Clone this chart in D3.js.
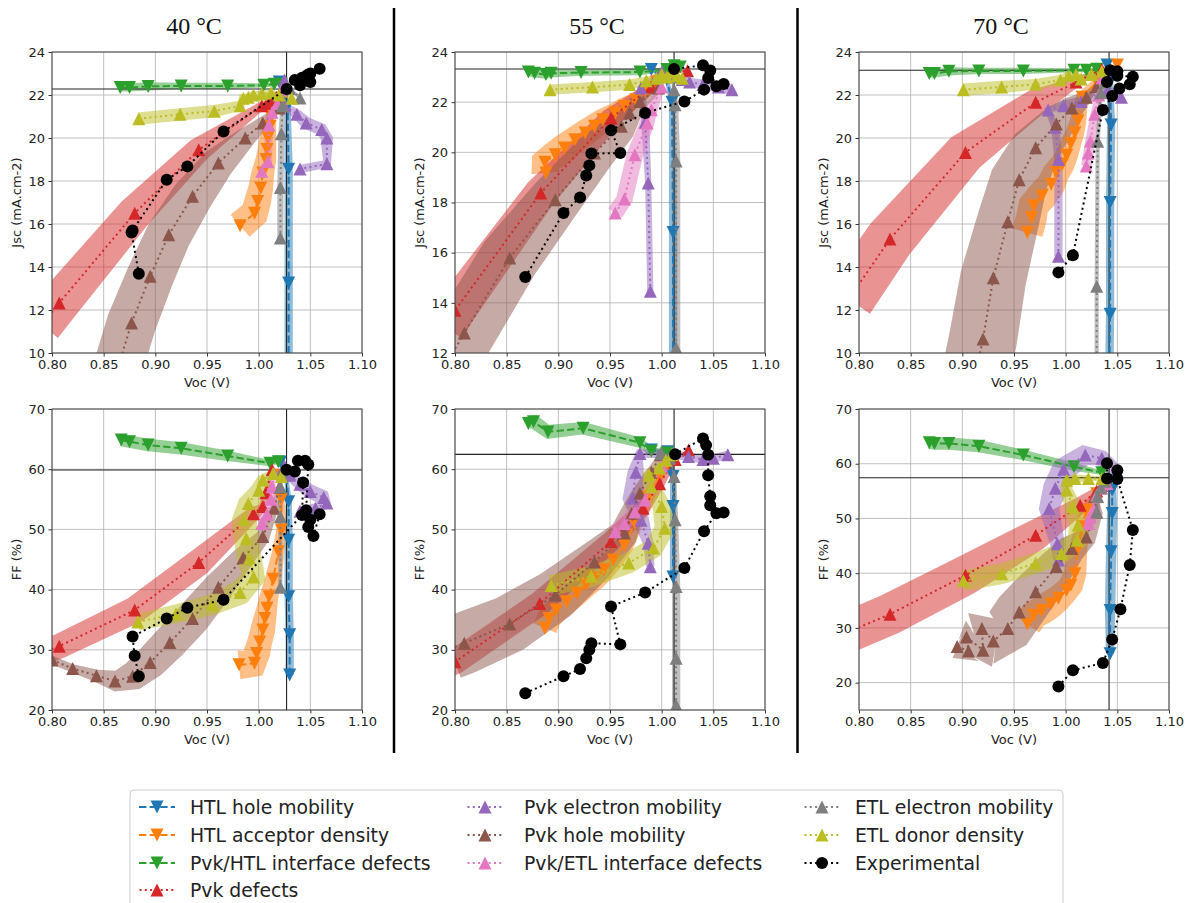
<!DOCTYPE html>
<html><head><meta charset="utf-8">
<script src="https://cdn.jsdelivr.net/npm/d3@7"></script>
<style>body{margin:0;background:#fff}svg{display:block}</style>
</head><body>
<svg id="chart" width="1193" height="903"></svg>
<script>
// ---------- data ----------
const temps = ["40 °C", "55 °C", "70 °C"];
const xTicks = [0.80, 0.85, 0.90, 0.95, 1.00, 1.05, 1.10];
const jscDomains = [[10, 24], [12, 24], [10, 24]];
const ffDomains = [[20, 70], [20, 70], [15, 70]];
const jscTicks = [[10,12,14,16,18,20,22,24],[12,14,16,18,20,22,24],[10,12,14,16,18,20,22,24]];
const ffTicks = [[20,30,40,50,60,70],[20,30,40,50,60,70],[20,30,40,50,60,70]];
const refVoc = [1.027, 1.012, 1.042];
const refJsc = [22.28, 23.32, 23.15];
const refFF = [59.87, 62.47, 57.44];

const seriesNames = ["HTL hole mobility","HTL acceptor density","Pvk/HTL interface defects","Pvk defects",
  "Pvk electron mobility","Pvk hole mobility","Pvk/ETL interface defects","ETL electron mobility",
  "ETL donor density","Experimental"];

// each series: [J40, J55, J70, FF40, FF55, FF70]; point = [Voc, value, band half-width (V)]
const htlHoleMobility = [
  [[1.029,8.5,0.004],[1.029,13.26,0.004],[1.029,18.55,0.004],[1.028,21.5,0.003],[1.02,22.6,0.002]],
  [[1.011,10.5,0.004],[1.011,16.8,0.004],[1.010,22.0,0.003],[1.005,22.9,0.002],[0.99,23.3,0.001]],
  [[1.042,8.5,0.004],[1.043,11.8,0.004],[1.043,17.0,0.004],[1.044,20.6,0.004],[1.043,22.6,0.003],[1.040,23.4,0.002]],
  [[1.030,25.8,0.004],[1.030,32.5,0.004],[1.029,38.8,0.004],[1.029,48.2,0.004],[1.029,54.6,0.003],[1.027,58.5,0.002],[1.021,61.2,0.002]],
  [[1.011,42.1,0.003],[1.011,53.8,0.003],[1.011,58.8,0.003],[1.006,62.9,0.002],[0.99,63.2,0.002]],
  [[1.043,25.3,0.004],[1.043,33.2,0.005],[1.044,43.9,0.005],[1.045,50.9,0.005],[1.045,55.2,0.004],[1.043,57.0,0.002]]
];
const htlAcceptorDensity = [
  [[0.982,15.92,0.014],[0.996,16.5,0.014],[0.999,17.05,0.013],[1.002,17.67,0.012],[1.004,18.37,0.011],[1.007,19.0,0.01],[1.008,19.46,0.009],[1.009,20.0,0.008],[1.011,20.54,0.006],[1.012,21.0,0.005],[1.015,21.5,0.003]],
  [[0.888,19.18,0.014],[0.887,19.6,0.014],[0.897,19.9,0.014],[0.906,20.17,0.014],[0.916,20.5,0.013],[0.926,20.77,0.013],[0.935,21.04,0.012],[0.943,21.3,0.011],[0.955,21.57,0.01],[0.964,21.83,0.009],[0.975,22.1,0.007],[0.985,22.4,0.005],[0.995,22.8,0.004],[1.005,23.1,0.002]],
  [[0.963,15.6,0.015],[0.967,16.3,0.015],[0.969,16.85,0.015],[0.977,17.3,0.015],[0.986,17.85,0.014],[0.991,18.4,0.013],[0.997,18.8,0.012],[1.001,19.2,0.011],[1.005,19.75,0.01],[1.009,20.25,0.009],[1.012,20.8,0.008],[1.016,21.9,0.006],[1.03,22.6,0.004],[1.05,23.4,0.002]],
  [[0.981,27.5,0.014],[0.996,27.75,0.014],[0.998,29.4,0.013],[1.001,31.3,0.012],[1.004,33.3,0.012],[1.006,35.2,0.011],[1.008,36.9,0.01],[1.010,38.8,0.009],[1.014,41.7,0.008],[1.019,46.3,0.006],[1.022,49.9,0.005],[1.022,55,0.003],[1.02,59,0.002]],
  [[0.887,33.6,0.012],[0.891,35.2,0.012],[0.898,36.6,0.012],[0.908,38.0,0.012],[0.918,39.4,0.012],[0.927,40.8,0.012],[0.935,41.9,0.012],[0.944,43.3,0.011],[0.953,44.9,0.01],[0.964,47.4,0.009],[0.974,51.0,0.008],[0.987,55.4,0.006],[0.997,58.5,0.004],[1.006,61.0,0.003]],
  [[0.963,30.7,0.014],[0.969,32.3,0.014],[0.977,33.2,0.014],[0.986,34.4,0.014],[0.993,35.4,0.013],[1.001,36.9,0.012],[1.005,37.8,0.012],[1.009,39.9,0.011],[1.012,44.5,0.009],[1.016,48.5,0.007],[1.02,51.5,0.006],[1.03,54.5,0.004],[1.04,56.5,0.002]]
];
const pvkHtlDefects = [
  [[0.866,22.35,0.004],[0.875,22.35,0.004],[0.893,22.4,0.004],[0.925,22.42,0.003],[0.970,22.42,0.003],[1.005,22.45,0.002],[1.015,22.5,0.002],[1.022,22.5,0.001]],
  [[0.871,23.2,0.004],[0.877,23.15,0.004],[0.888,23.1,0.004],[0.893,23.15,0.004],[0.922,23.18,0.003],[0.979,23.2,0.003],[1.005,23.3,0.002],[1.012,23.45,0.002],[1.018,23.4,0.001]],
  [[0.868,23.0,0.004],[0.873,23.0,0.004],[0.887,23.1,0.004],[0.916,23.12,0.003],[0.959,23.12,0.003],[1.008,23.15,0.002],[1.02,23.15,0.002],[1.03,23.2,0.001]],
  [[0.867,64.85,0.006],[0.875,64.57,0.006],[0.893,64.02,0.006],[0.925,63.47,0.006],[0.970,62.2,0.005],[1.011,61.0,0.003],[1.019,61.25,0.002]],
  [[0.871,67.6,0.007],[0.876,67.9,0.007],[0.890,66.2,0.007],[0.924,66.8,0.006],[0.979,64.4,0.005],[0.99,63.0,0.004],[1.005,62.7,0.003]],
  [[0.868,63.84,0.006],[0.873,63.7,0.006],[0.887,63.7,0.006],[0.916,63.2,0.006],[0.959,61.6,0.005],[1.008,59.45,0.004],[1.035,58.35,0.002]]
];
const pvkDefects = [
  [[0.79,11.3,0.02],[0.807,12.33,0.02],[0.880,16.5,0.017],[0.942,19.45,0.012],[1.003,21.5,0.004],[1.008,21.6,0.003],[1.012,21.7,0.003],[1.017,21.9,0.002],[1.022,22.2,0.001]],
  [[0.79,13.0,0.02],[0.80,13.7,0.02],[0.883,18.38,0.016],[0.951,21.37,0.01],[0.99,22.6,0.005],[1.012,23.2,0.002],[1.025,23.25,0.001]],
  [[0.79,12.5,0.025],[0.830,15.3,0.024],[0.903,19.33,0.02],[0.971,21.66,0.013],[1.01,22.6,0.005],[1.035,23.2,0.001]],
  [[0.79,29.5,0.012],[0.807,30.6,0.012],[0.880,36.6,0.013],[0.942,44.5,0.013],[0.995,52.6,0.007],[1.004,53.8,0.004],[1.007,56.1,0.003],[1.013,59.9,0.001]],
  [[0.79,27.2,0.012],[0.80,28.0,0.012],[0.882,37.7,0.012],[0.951,48.0,0.01],[0.982,53.5,0.007],[0.998,57.6,0.005],[1.013,61.6,0.002],[1.026,63.2,0.001]],
  [[0.79,29.3,0.02],[0.83,32.5,0.02],[0.903,39.6,0.019],[0.971,46.95,0.015],[1.014,52.4,0.008],[1.03,55.0,0.004],[1.04,56.5,0.001]]
];
const pvkElectronMobility = [
  [[1.025,22.7,0.003],[1.025,21.5,0.004],[1.037,21.1,0.005],[1.046,20.7,0.006],[1.061,20.4,0.006],[1.066,20.0,0.006],[1.066,18.8,0.005],[1.04,18.56,0.004]],
  [[0.989,14.46,0.003],[0.987,18.78,0.003],[0.984,21.2,0.004],[0.98,22.56,0.004],[1.0,23.2,0.003],[1.02,22.9,0.004],[1.027,22.8,0.004],[1.04,22.7,0.005],[1.055,22.6,0.005],[1.068,22.5,0.005]],
  [[0.993,14.5,0.004],[0.993,19.0,0.004],[0.99,20.5,0.004],[0.983,21.3,0.004],[0.998,21.5,0.005],[1.015,21.7,0.005],[1.04,22.2,0.005],[1.054,21.9,0.004]],
  [[1.025,60.5,0.003],[1.03,59.0,0.005],[1.04,57.5,0.006],[1.05,56.3,0.007],[1.063,55.3,0.007],[1.066,54.4,0.006],[1.055,53.5,0.005],[1.04,53.0,0.004]],
  [[0.989,43.8,0.004],[0.987,47.7,0.005],[0.98,51.5,0.008],[0.972,55.2,0.01],[0.975,59.5,0.008],[0.979,62.6,0.005],[1.0,62.5,0.004],[1.026,62.1,0.004],[1.04,61.6,0.004],[1.05,61.8,0.004],[1.064,62.4,0.004]],
  [[0.993,42.4,0.005],[0.992,45.4,0.007],[0.984,51.8,0.01],[0.99,55.5,0.012],[0.998,59.0,0.012],[1.019,61.6,0.01],[1.035,61.0,0.008],[1.05,58.5,0.006]]
];
const pvkHoleMobility = [
  [[0.865,9.5,0.024],[0.877,11.4,0.024],[0.895,13.57,0.023],[0.913,15.5,0.022],[0.936,17.29,0.02],[0.961,18.84,0.016],[0.987,20.0,0.01],[1.004,20.7,0.006],[1.02,21.4,0.002]],
  [[0.795,11.8,0.03],[0.809,12.8,0.03],[0.853,15.79,0.029],[0.897,18.11,0.025],[0.935,19.97,0.02],[0.961,21.04,0.015],[0.969,21.57,0.012],[0.979,22.03,0.008],[0.997,22.56,0.004],[1.0,23.1,0.002]],
  [[0.915,9.5,0.033],[0.920,10.65,0.033],[0.930,13.5,0.032],[0.944,16.1,0.03],[0.955,18.06,0.028],[0.971,19.55,0.024],[0.991,20.65,0.018],[1.006,21.4,0.012],[1.02,21.9,0.006],[1.03,22.4,0.002]],
  [[0.79,28.8,0.004],[0.80,28.3,0.004],[0.82,26.9,0.004],[0.843,25.7,0.006],[0.861,24.8,0.01],[0.878,25.6,0.014],[0.895,27.9,0.016],[0.914,31.2,0.017],[0.936,35.2,0.017],[0.961,40.4,0.015],[0.985,45.3,0.011],[1.004,48.8,0.007],[1.015,53.5,0.004],[1.02,57,0.002]],
  [[0.795,30.2,0.03],[0.809,31.1,0.03],[0.853,34.3,0.028],[0.897,39.1,0.025],[0.935,44.6,0.02],[0.964,49.4,0.014],[0.971,52.7,0.011],[0.979,56.0,0.008],[0.99,59.5,0.005],[0.999,62.4,0.002]],
  [[0.895,26.6,0.012],[0.906,25.8,0.014],[0.904,28.35,0.016],[0.92,25.9,0.018],[0.919,29.9,0.02],[0.93,27.6,0.022],[0.944,29.9,0.024],[0.955,32.9,0.024],[0.971,36.6,0.022],[0.991,41.2,0.018],[1.006,44.5,0.014],[1.02,46.6,0.01],[1.03,51.2,0.006],[1.028,54.0,0.003],[1.035,56,0.001]]
];
const pvkEtlDefects = [
  [[1.003,18.45,0.004],[1.009,18.9,0.004],[1.010,20.6,0.004],[1.013,21.2,0.003],[1.018,21.6,0.002],[1.022,22.2,0.001]],
  [[0.955,17.58,0.008],[0.964,18.14,0.008],[0.974,19.9,0.008],[0.986,21.17,0.007],[0.99,21.7,0.006],[1.0,22.6,0.003]],
  [[1.020,18.7,0.005],[1.022,19.3,0.005],[1.024,19.85,0.005],[1.028,21.1,0.004],[1.032,22.0,0.003],[1.035,22.8,0.002]],
  [[1.003,51.0,0.005],[1.008,52.5,0.005],[1.012,55.0,0.004],[1.013,57.1,0.003],[1.015,59.3,0.002]],
  [[0.955,49.6,0.007],[0.964,51.0,0.007],[0.974,52.9,0.007],[0.984,54.9,0.006],[0.99,57.0,0.005],[1.0,60.5,0.003],[1.01,62.5,0.001]],
  [[1.022,49.1,0.006],[1.024,50.3,0.006],[1.027,51.5,0.005],[1.03,54.3,0.004],[1.035,55.5,0.003],[1.04,56.4,0.002]]
];
const etlElectronMobility = [
  [[1.021,15.35,0.003],[1.021,17.7,0.003],[1.022,20.2,0.003],[1.023,21.5,0.002],[1.03,22.3,0.002],[1.04,21.86,0.002]],
  [[1.014,11.0,0.004],[1.014,12.2,0.004],[1.014,19.65,0.004],[1.013,21.9,0.003],[1.012,22.5,0.002],[1.01,23.0,0.001]],
  [[1.030,9.0,0.002],[1.030,13.1,0.002],[1.031,19.85,0.002],[1.034,22.1,0.002],[1.038,22.6,0.001]],
  [[1.021,40.4,0.002],[1.021,52.1,0.002],[1.021,57.1,0.002],[1.022,59.5,0.001]],
  [[1.014,19.0,0.004],[1.014,20.8,0.004],[1.014,28.6,0.004],[1.014,40.5,0.004],[1.013,51.6,0.003],[1.012,58.8,0.002],[1.008,61.8,0.001],[0.999,62.6,0.001]],
  [[1.030,51.2,0.003],[1.031,54.0,0.003],[1.034,55.6,0.002],[1.038,56.8,0.001]]
];
const etlDonorDensity = [
  [[0.884,20.9,0.006],[0.924,21.1,0.006],[0.957,21.25,0.006],[0.982,21.5,0.005],[0.985,21.85,0.005],[0.99,21.9,0.004],[0.995,22.0,0.004],[1.003,22.05,0.003],[1.012,22.1,0.003],[1.02,22.0,0.002],[1.032,21.85,0.002]],
  [[0.892,22.5,0.005],[0.933,22.6,0.005],[0.969,22.7,0.005],[0.985,22.85,0.004],[0.995,22.95,0.004],[1.0,23.1,0.004],[1.005,23.0,0.003],[1.01,23.2,0.003],[1.015,23.05,0.002],[1.02,22.95,0.002]],
  [[0.901,22.25,0.006],[0.938,22.37,0.006],[0.971,22.5,0.005],[0.995,22.7,0.005],[1.003,22.9,0.004],[1.01,22.95,0.004],[1.015,22.75,0.003],[1.025,22.95,0.003],[1.035,23.1,0.002]],
  [[0.883,34.6,0.008],[0.92,36.0,0.009],[0.955,37.5,0.01],[0.982,39.5,0.012],[0.995,42.1,0.012],[0.991,45.2,0.012],[0.988,48.5,0.012],[0.986,51.6,0.012],[0.99,54.3,0.01],[1.0,56.5,0.008],[1.004,58.2,0.006],[1.014,59.3,0.004],[1.022,58.8,0.002]],
  [[0.893,40.7,0.01],[0.932,42.2,0.01],[0.968,44.4,0.01],[0.992,46.9,0.01],[1.003,50.2,0.01],[1.0,53.8,0.009],[0.99,57.1,0.008],[0.988,59.0,0.007],[0.998,60.2,0.005],[1.004,61.5,0.003],[1.01,62.4,0.002]],
  [[0.901,38.6,0.01],[0.938,39.9,0.01],[0.971,41.8,0.01],[0.996,43.6,0.01],[1.011,46.0,0.01],[1.012,48.8,0.009],[1.007,52.1,0.008],[1.001,55.2,0.006],[1.001,57.0,0.005],[1.009,57.3,0.004],[1.022,57.3,0.003],[1.035,57.3,0.002]]
];
const experimental = [
  [[0.884,13.69],[0.877,15.6],[0.878,15.7],[0.911,18.06],[0.931,18.68],[0.966,20.3],[1.027,22.28],[1.035,22.7],[1.04,22.45],[1.042,22.8],[1.045,22.85],[1.048,22.95],[1.05,22.6],[1.05,23.0],[1.059,23.22]],
  [[0.868,15.03],[0.905,17.58],[0.921,18.2],[0.927,19.08],[0.930,19.48],[0.932,19.95],[0.96,19.97],[0.951,20.88],[0.984,21.57],[1.022,22.03],[1.041,22.5],[1.053,22.63],[1.06,22.72],[1.045,22.96],[1.047,23.26],[1.04,23.47],[1.012,23.32]],
  [[0.993,13.75],[1.007,14.55],[1.036,21.3],[1.045,21.95],[1.052,22.3],[1.062,22.5],[1.065,22.85],[1.05,22.9],[1.05,23.1],[1.043,23.15],[1.04,22.6]],
  [[0.884,25.6],[0.880,29.0],[0.878,32.2],[0.911,35.2],[0.931,37.0],[0.966,38.3],[1.042,52.4],[1.043,57.8],[1.027,59.9],[1.035,59.6],[1.038,61.4],[1.045,61.4],[1.048,60.8],[1.046,53.2],[1.05,51.6],[1.048,50.4],[1.053,48.9],[1.059,52.5]],
  [[0.868,22.8],[0.905,25.6],[0.921,26.8],[0.927,28.6],[0.930,30.0],[0.932,31.1],[0.96,30.9],[0.951,37.2],[0.984,39.5],[1.022,43.6],[1.041,49.7],[1.053,52.7],[1.06,52.8],[1.047,54.0],[1.047,55.5],[1.045,59.0],[1.045,62.4],[1.043,64.0],[1.04,65.1],[1.013,62.5]],
  [[0.993,19.3],[1.007,22.25],[1.036,23.6],[1.045,27.9],[1.053,33.4],[1.062,41.5],[1.065,47.9],[1.05,57.2],[1.05,58.8],[1.04,60.1],[1.04,57.3]]
];

// ---------- styles ----------
const allSeries = [htlHoleMobility, htlAcceptorDensity, pvkHtlDefects, pvkDefects, pvkElectronMobility,
  pvkHoleMobility, pvkEtlDefects, etlElectronMobility, etlDonorDensity, experimental];
const colors = ["#1f77b4","#ff7f0e","#2ca02c","#d62728","#9467bd","#8c564b","#e377c2","#7f7f7f","#bcbd22","#000000"];
const markers = ["down","down","down","up","up","up","up","up","up","circle"];
const dashes = ["7.4,3.2","7.4,3.2","7.4,3.2","2,3.3","2,3.3","2,3.3","2,3.3","2,3.3","2,3.3","2,3.3"];

const svg = d3.select("#chart");
const colLeft = [52, 455, 859];
const W = 310;
const rows = [{top: 52, bottom: 353}, {top: 409, bottom: 710}];
const font = "'DejaVu Sans', sans-serif";

function markerPath(type) {
  const s = 6.5;
  if (type === "up") return `M0,${-s}L${s},${s}L${-s},${s}Z`;
  if (type === "down") return `M0,${s}L${s},${-s}L${-s},${-s}Z`;
  return d3.symbol(d3.symbolCircle, Math.PI * 6 * 6)();
}

function bandPolygon(pts, xs, ys) {
  const k = xs(1.0) - xs(0.9); // px per 0.1 V
  const P = pts.map(p => [xs(p[0]), ys(p[1]), p[2] * k * 10]);
  const n = P.length, up = [], lo = [];
  for (let i = 0; i < n; i++) {
    const a = P[Math.max(i - 1, 0)], b = P[Math.min(i + 1, n - 1)];
    let tx = b[0] - a[0], ty = b[1] - a[1];
    const L = Math.hypot(tx, ty) || 1;
    const nx = -ty / L, ny = tx / L, w = P[i][2];
    up.push([P[i][0] + nx * w, P[i][1] + ny * w]);
    lo.push([P[i][0] - nx * w, P[i][1] - ny * w]);
  }
  return "M" + up.concat(lo.reverse()).map(p => p[0].toFixed(2) + "," + p[1].toFixed(2)).join("L") + "Z";
}

let clipId = 0;
function drawPanel(col, row) {
  const isJ = row === 0;
  const left = colLeft[col], right = left + W, top = rows[row].top, bottom = rows[row].bottom;
  const xs = d3.scaleLinear().domain([0.8, 1.1]).range([left, right]);
  const ys = d3.scaleLinear().domain(isJ ? jscDomains[col] : ffDomains[col]).range([bottom, top]);
  const yt = isJ ? jscTicks[col] : ffTicks[col];
  const g = svg.append("g");
  const id = "clip" + (clipId++);
  svg.append("clipPath").attr("id", id).append("rect")
    .attr("x", left).attr("y", top).attr("width", W).attr("height", bottom - top);

  // grid
  g.append("g").selectAll("line").data(xTicks).join("line")
    .attr("x1", d => xs(d)).attr("x2", d => xs(d)).attr("y1", top).attr("y2", bottom)
    .attr("stroke", "#b0b0b0").attr("stroke-width", 0.8);
  g.append("g").selectAll("line").data(yt).join("line")
    .attr("x1", left).attr("x2", right).attr("y1", d => ys(d)).attr("y2", d => ys(d))
    .attr("stroke", "#b0b0b0").attr("stroke-width", 0.8);

  const pg = g.append("g").attr("clip-path", `url(#${id})`);
  const pIdx = row * 3 + col;
  // bands
  allSeries.forEach((s, si) => {
    if (si === 9) return;
    pg.append("path").attr("d", bandPolygon(s[pIdx], xs, ys))
      .attr("fill", colors[si]).attr("fill-opacity", 0.5).attr("stroke", "none");
  });
  // reference lines
  pg.append("line").attr("x1", xs(refVoc[col])).attr("x2", xs(refVoc[col]))
    .attr("y1", top).attr("y2", bottom).attr("stroke", "#222").attr("stroke-width", 1.1);
  const ry = isJ ? refJsc[col] : refFF[col];
  pg.append("line").attr("x1", left).attr("x2", right).attr("y1", ys(ry)).attr("y2", ys(ry))
    .attr("stroke", "#222").attr("stroke-width", 1.1);
  // lines and markers
  const line = d3.line().x(d => xs(d[0])).y(d => ys(d[1]));
  allSeries.forEach((s, si) => {
    const pts = s[pIdx];
    pg.append("path").attr("d", line(pts)).attr("fill", "none")
      .attr("stroke", colors[si]).attr("stroke-width", 2).attr("stroke-dasharray", dashes[si]);
    pg.append("g").selectAll("path").data(pts).join("path")
      .attr("transform", d => `translate(${xs(d[0])},${ys(d[1])})`)
      .attr("d", markerPath(markers[si])).attr("fill", colors[si]);
  });

  // axes
  const ax = g.append("g").attr("transform", `translate(0,${bottom})`)
    .call(d3.axisBottom(xs).tickValues(xTicks).tickFormat(d3.format(".2f")).tickSize(3.5).tickPadding(3.5));
  const ay = g.append("g").attr("transform", `translate(${left},0)`)
    .call(d3.axisLeft(ys).tickValues(yt).tickFormat(d3.format("d")).tickSize(3.5).tickPadding(3.5));
  [ax, ay].forEach(a => {
    a.select(".domain").remove();
    a.selectAll("text").attr("font-family", font).attr("font-size", 13).attr("fill", "#222");
    a.selectAll("line").attr("stroke", "#333");
  });
  g.append("rect").attr("x", left).attr("y", top).attr("width", W).attr("height", bottom - top)
    .attr("fill", "none").attr("stroke", "#444").attr("stroke-width", 1);

  g.append("text").attr("x", left + W / 2).attr("y", bottom + 34).attr("text-anchor", "middle")
    .attr("font-family", font).attr("font-size", 13).attr("fill", "#222").text("Voc (V)");
  const cy = (top + bottom) / 2;
  g.append("text").attr("transform", `translate(${left - 31},${cy}) rotate(-90)`).attr("text-anchor", "middle")
    .attr("font-family", font).attr("font-size", 13).attr("fill", "#222")
    .text(isJ ? "Jsc (mA.cm-2)" : "FF (%)");
}

for (let r = 0; r < 2; r++) for (let c = 0; c < 3; c++) drawPanel(c, r);

// titles
temps.forEach((t, i) => {
  svg.append("text").attr("x", colLeft[i] + W / 2 - 13).attr("y", 34).attr("text-anchor", "middle")
    .attr("font-family", "'Liberation Serif', serif").attr("font-size", 24).attr("fill", "#111").text(t);
});
// separators
[394, 797.5].forEach(x => {
  svg.append("line").attr("x1", x).attr("x2", x).attr("y1", 8).attr("y2", 753)
    .attr("stroke", "#000").attr("stroke-width", 2.5);
});

// legend
const lg = svg.append("g");
lg.append("rect").attr("x", 130).attr("y", 790).attr("width", 933).attr("height", 140).attr("rx", 4)
  .attr("fill", "#fff").attr("stroke", "#cccccc").attr("stroke-width", 1);
const legCols = [{mx: 157, tx: 190}, {mx: 485, tx: 524}, {mx: 822, tx: 855}];
const legRowY = [807, 835, 863, 890];
const legendOrder = [[0, 0, 0], [1, 0, 1], [2, 0, 2], [3, 0, 3], [4, 1, 0], [5, 1, 1], [6, 1, 2], [7, 2, 0], [8, 2, 1], [9, 2, 2]];
legendOrder.forEach(([si, c, r]) => {
  const y = legRowY[r], mx = legCols[c].mx;
  lg.append("line").attr("x1", mx - 18).attr("x2", mx + 18).attr("y1", y).attr("y2", y)
    .attr("stroke", colors[si]).attr("stroke-width", 2).attr("stroke-dasharray", si < 3 ? "7.4,3.2" : "2,3.3")
    .attr("stroke-dashoffset", si < 3 ? 0 : -0.5);
  lg.append("path").attr("transform", `translate(${mx},${y})`).attr("d", markerPath(markers[si])).attr("fill", colors[si]);
  lg.append("text").attr("x", legCols[c].tx).attr("y", y).attr("dy", "0.35em")
    .attr("font-family", font).attr("font-size", 18.8).attr("fill", "#222").text(seriesNames[si]);
});
</script>
</body></html>
